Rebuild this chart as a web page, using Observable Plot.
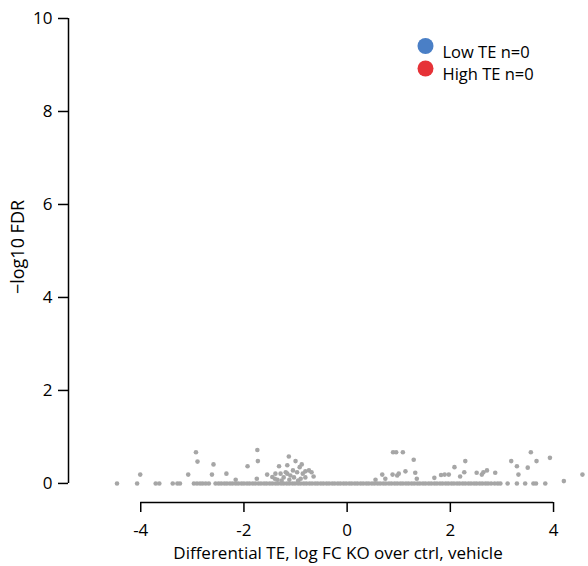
<!DOCTYPE html>
<html><head><meta charset="utf-8">
<script src="https://cdn.jsdelivr.net/npm/d3@7"></script>
<script src="https://cdn.jsdelivr.net/npm/@observablehq/plot@0.6"></script>
<style>
body{margin:0;background:#fff}
g[aria-label$="tick label"], g[aria-label$="tick label"] text {font-size:17px !important;}
</style>
</head><body><div id="chart"></div>
<script>
// Scattered genes: differential TE (log FC) and -log10 FDR
const sparseX = [-4.46,-4.07,-4.01,-3.71,-3.64,-3.38,-3.29,-3.24,-3.08,-2.93,-2.90,-2.97,-2.91,-2.85,-2.80,-2.74,-2.68,-2.59,-2.62,-2.34,
  -2.16,-1.93,-1.74,-1.73,-1.75,-1.55,-1.45,-1.39,-1.32,-1.29,-1.23,-1.19,-1.16,-1.16,-1.13,-1.10,-1.03,-1.00,-0.97,-0.92,-0.88,-0.86,-0.81,-0.81,-0.74,-0.69,-0.65,
  -1.35,-1.27,-1.12,-0.95,-0.90,-1.05,-1.40,
  0.55,0.68,0.74,0.88,0.89,0.95,0.97,1.00,1.08,1.13,1.29,1.32,1.35,1.69,1.82,1.89,1.97,2.08,2.19,2.27,2.29,2.51,2.61,2.64,2.71,2.87,
  3.11,3.18,3.29,3.29,3.32,3.45,3.50,3.56,3.61,3.66,3.67,3.84,3.93,4.20,4.56];
const sparseY = [0,0,0.19,0,0,0,0,0,0.19,0.67,0.47,0,0,0,0,0,0,0.41,0.19,0.21,
  0.08,0.37,0.72,0.48,0.10,0.19,0.14,0.21,0.37,0.21,0.13,0.24,0.39,0.21,0.58,0.17,0.13,0.48,0.24,0.35,0.41,0.21,0.26,0.13,0.28,0.24,0.15,
  0.08,0.06,0.08,0.06,0.10,0.28,0.10,
  0.08,0.19,0.10,0.19,0.67,0.67,0.17,0.21,0.67,0.26,0.51,0.23,0.10,0.12,0.18,0.19,0.19,0.35,0.15,0.24,0.48,0.23,0.19,0.24,0.28,0.23,
  0,0.48,0,0.37,0.19,0,0.34,0.67,0,0,0.48,0,0.55,0.05,0.19];
// Dense run of genes with FDR = 1 (-log10 FDR = 0)
const bandX = [-2.55,-2.49,-2.44,-2.38,-2.33,-2.27,-2.22,-2.16,-2.11,-2.05,-2.0,-1.94,-1.89,-1.83,-1.78,-1.72,-1.67,-1.61,-1.56,-1.5,
  -1.45,-1.39,-1.34,-1.28,-1.23,-1.17,-1.12,-1.06,-1.01,-0.95,-0.9,-0.84,-0.79,-0.73,-0.68,-0.62,-0.57,-0.51,-0.46,-0.4,
  -0.35,-0.29,-0.24,-0.18,-0.13,-0.07,-0.02,0.04,0.09,0.15,0.2,0.26,0.31,0.37,0.42,0.48,0.53,0.59,0.64,0.7,
  0.75,0.81,0.86,0.92,0.97,1.03,1.08,1.14,1.19,1.25,1.3,1.36,1.41,1.47,1.52,1.58,1.63,1.69,1.74,1.8,
  1.85,1.91,1.96,2.02,2.07,2.13,2.18,2.24,2.29,2.35,2.4,2.46,2.51,2.57,2.62,2.68,2.73,2.79,2.86,2.92,2.97];
const bandY = bandX.map(() => 0);

const xTicks = [-4, -2, 0, 2, 4];
const yTicks = [0, 2, 4, 6, 8, 10];
const xDomain = [-5.4, 4.6];
const yDomain = [-0.41, 10];
const xLabel = "Differential TE, log FC KO over ctrl, vehicle";
const yLabel = "−log10 FDR";
const legendLabels = ["Low TE n=0", "High TE n=0"];
const legendColors = ["#4a7fc6", "#e63237"];

const points = sparseX.map((x, i) => ({x, y: sparseY[i]}))
  .concat(bandX.map((x, i) => ({x, y: bandY[i]})));

const font = "'Open Sans', sans-serif";
const chart = Plot.plot({
  width: 588, height: 566,
  marginLeft: 68, marginRight: 4, marginTop: 18, marginBottom: 64,
  x: {domain: xDomain},
  y: {domain: yDomain},
  style: {fontFamily: font, fontSize: "17px", color: "black", background: "white"},
  marks: [
    Plot.dot(points, {x: "x", y: "y", r: 2.3, fill: "#a6a6a6", stroke: "none"}),
    Plot.ruleY([yDomain[0]], {x1: xTicks[0], x2: xTicks[xTicks.length - 1], stroke: "black", strokeWidth: 1.5}),
    Plot.ruleX([xDomain[0]], {y1: yTicks[0], y2: yTicks[yTicks.length - 1], stroke: "black", strokeWidth: 1.5}),
    Plot.axisX({ticks: xTicks, tickSize: 10, tickPadding: 11, strokeWidth: 1.5, tickFormat: d => String(d), fontSize: 17, label: null}),
    Plot.axisY({ticks: yTicks, tickSize: 10, tickPadding: 6, strokeWidth: 1.5, tickFormat: d => String(d), fontSize: 17, label: null}),
    Plot.text([xLabel], {text: d => d, frameAnchor: "bottom", dx: 11.5, dy: 56, lineAnchor: "bottom", textAnchor: "middle", fontSize: 17, fill: "black"}),
    Plot.text([yLabel], {text: d => d, frameAnchor: "left", dx: -45, dy: -13.5, rotate: -90, lineAnchor: "bottom", textAnchor: "middle", fontSize: 18, fill: "black"}),
    Plot.dot([legendLabels[0]], {frameAnchor: "top-left", dx: 357, dy: 27.5, r: 8, fill: legendColors[0]}),
    Plot.dot([legendLabels[1]], {frameAnchor: "top-left", dx: 357, dy: 50, r: 8, fill: legendColors[1]}),
    Plot.text([legendLabels[0]], {text: d => d, frameAnchor: "top-left", dx: 374, dy: 27.5, textAnchor: "start", fontSize: 16.5, fill: "black"}),
    Plot.text([legendLabels[1]], {text: d => d, frameAnchor: "top-left", dx: 374, dy: 50, textAnchor: "start", fontSize: 16.5, fill: "black"})
  ]
});
document.getElementById("chart").appendChild(chart);
</script>
</body></html>
